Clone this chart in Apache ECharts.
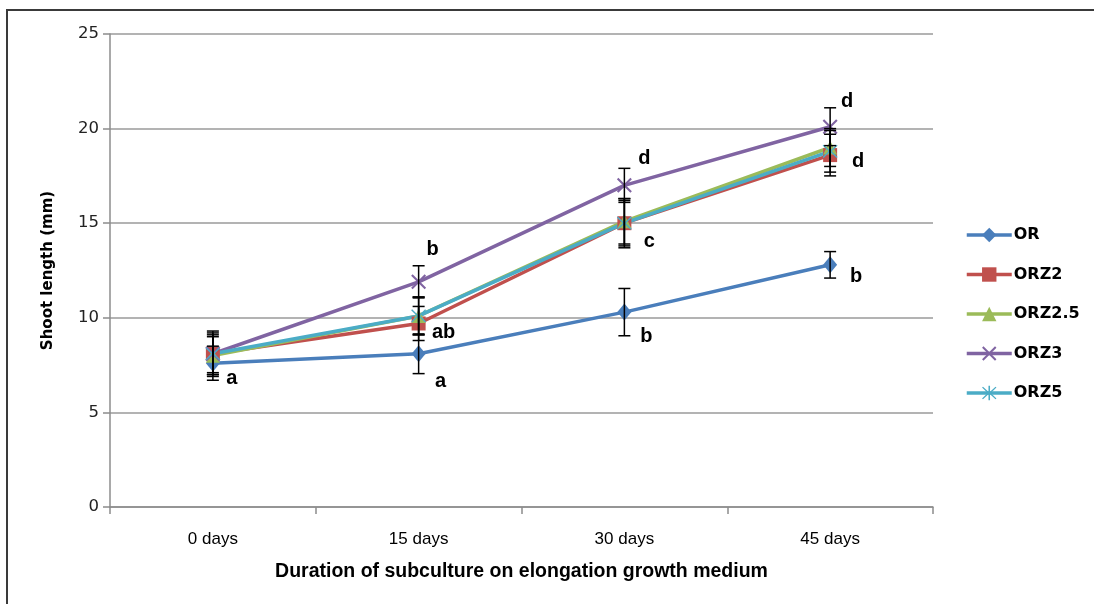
<!DOCTYPE html>
<html>
<head>
<meta charset="utf-8">
<title>Shoot length</title>
<script src="https://cdn.jsdelivr.net/npm/echarts@6/dist/echarts.min.js"></script>
<style>
  html, body { margin: 0; padding: 0; background: #fff; }
  #chart { width: 1094px; height: 604px; }
</style>
</head>
<body>
<div id="chart"></div>
<script>
// Categories (days on elongation medium)
const categories = ['0 days', '15 days', '30 days', '45 days'];

// Mean shoot length (mm) per treatment
const OR     = [7.6, 8.1, 10.3, 12.8];
const ORZ2   = [8.1, 9.7, 15.0, 18.6];
const ORZ2_5 = [8.0, 10.1, 15.1, 19.0];
const ORZ3   = [8.1, 11.9, 17.0, 20.1];
const ORZ5   = [8.1, 10.1, 15.0, 18.8];

// Standard errors (mm)
const OR_err     = [0.9, 1.05, 1.25, 0.7];
const ORZ2_err   = [1.2, 0.9, 1.2, 1.1];
const ORZ2_5_err = [1.0, 1.0, 1.2, 1.0];
const ORZ3_err   = [1.0, 0.85, 0.9, 1.0];
const ORZ5_err   = [1.1, 1.0, 1.3, 1.1];

// Significance letters
const OR_letters   = ['a', 'a', 'b', 'b'];
const ORZ2_letters = ['', 'ab', 'c', 'd'];
const ORZ3_letters = ['', 'b', 'd', 'd'];

// Y-axis ticks
const yMin = 0, yMax = 25, yStep = 5;

// Symbol shapes
const crossPath = 'path://M0,1L1,0L5,4L9,0L10,1L6,5L10,9L9,10L5,6L1,10L0,9L4,5Z';
const starPath  = 'path://M4.5,0L5.5,0L5.5,4.2L9,0.6L9.6,1.2L6,5L9.6,8.8L9,9.4L5.5,5.8L5.5,10L4.5,10L4.5,5.8L1,9.4L0.4,8.8L4,5L0.4,1.2L1,0.6L4.5,4.2Z';

// Letter placement relative to each marker (pixels)
const letterOffsets = {
  OR:   [[19, 15], [22, 28], [22, 24], [26, 12]],
  ORZ2: [[0, 0], [25, 9], [25, 18], [28, 6]],
  ORZ3: [[0, 0], [14, -32], [20, -27], [17, -25]]
};

const groups = [
  { name: 'OR',     values: OR,     err: OR_err,     color: '#4A7EBB', symbol: 'diamond',  size: [14, 17], letters: OR_letters,   offs: letterOffsets.OR },
  { name: 'ORZ2',   values: ORZ2,   err: ORZ2_err,   color: '#C0504D', symbol: 'rect',     size: 14,       letters: ORZ2_letters, offs: letterOffsets.ORZ2 },
  { name: 'ORZ2.5', values: ORZ2_5, err: ORZ2_5_err, color: '#9BBB59', symbol: 'triangle', size: 14 },
  { name: 'ORZ3',   values: ORZ3,   err: ORZ3_err,   color: '#8064A2', symbol: crossPath,  size: 15,       letters: ORZ3_letters, offs: letterOffsets.ORZ3 },
  { name: 'ORZ5',   values: ORZ5,   err: ORZ5_err,   color: '#4BACC6', symbol: starPath,   size: 15 }
];

const letterStyle = {
  fontFamily: 'Liberation Sans, Arial, sans-serif',
  fontWeight: 'bold',
  fontSize: 20,
  color: '#000'
};

const series = [];

groups.forEach(g => {
  const data = g.values.map((v, i) => {
    const item = { value: v };
    if (g.letters && g.letters[i]) {
      item.label = Object.assign({
        show: true,
        position: 'inside',
        offset: g.offs[i],
        formatter: g.letters[i]
      }, letterStyle);
    }
    return item;
  });
  series.push({
    name: g.name,
    type: 'line',
    data: data,
    symbol: g.symbol,
    symbolSize: g.size,
    showAllSymbol: true,
    lineStyle: { color: g.color, width: 3.5 },
    itemStyle: { color: g.color, opacity: 1 },
    label: { show: false },
    emphasis: { disabled: true },
    z: 3
  });
});

// Error bars, drawn above the lines
groups.forEach(g => {
  series.push({
    name: g.name + ' error',
    type: 'custom',
    data: g.values.map((v, i) => [i, v - g.err[i], v + g.err[i]]),
    renderItem: function (params, api) {
      const lo = api.coord([api.value(0), api.value(1)]);
      const hi = api.coord([api.value(0), api.value(2)]);
      const hw = 6;
      const style = { stroke: '#000', lineWidth: 1.5, fill: null };
      return {
        type: 'group',
        children: [
          { type: 'line', shape: { x1: lo[0], y1: lo[1], x2: hi[0], y2: hi[1] }, style: style },
          { type: 'line', shape: { x1: lo[0] - hw, y1: lo[1], x2: lo[0] + hw, y2: lo[1] }, style: style },
          { type: 'line', shape: { x1: hi[0] - hw, y1: hi[1], x2: hi[0] + hw, y2: hi[1] }, style: style }
        ]
      };
    },
    z: 5,
    silent: true
  });
});

const chart = echarts.init(document.getElementById('chart'), null, { renderer: 'canvas' });

chart.setOption({
  animation: false,
  backgroundColor: '#fff',
  graphic: [{
    type: 'rect',
    shape: { x: 7, y: 10, width: 1200, height: 700 },
    style: { fill: null, stroke: '#3a3a3a', lineWidth: 2 },
    silent: true
  }],
  grid: { left: 110, right: 161, top: 34, bottom: 97 },
  legend: {
    orient: 'vertical',
    left: 960,
    top: 222,
    itemWidth: 45,
    itemHeight: 18,
    itemGap: 23.5,
    lineStyle: { width: 3.5 },
    data: groups.map(g => g.name),
    textStyle: {
      fontFamily: 'DejaVu Sans, Verdana, sans-serif',
      fontSize: 16,
      fontWeight: 'bold',
      color: '#000',
      padding: [0, 0, 0, -3]
    }
  },
  xAxis: {
    type: 'category',
    data: categories,
    boundaryGap: true,
    axisLine: { lineStyle: { color: '#8c8c8c', width: 1.5 } },
    axisTick: { show: true, length: 7, lineStyle: { color: '#8c8c8c', width: 1.5 } },
    axisLabel: {
      margin: 24,
      fontFamily: 'Liberation Sans Narrow, Arial Narrow, sans-serif',
      fontSize: 17,
      color: '#000'
    },
    name: 'Duration of subculture on elongation growth medium',
    nameLocation: 'middle',
    nameGap: 55,
    nameTextStyle: {
      fontFamily: 'Liberation Sans, Arial, sans-serif',
      fontSize: 19.5,
      fontWeight: 'bold',
      color: '#000'
    }
  },
  yAxis: {
    type: 'value',
    min: yMin,
    max: yMax,
    interval: yStep,
    axisLine: { show: true, lineStyle: { color: '#8c8c8c', width: 1.5 } },
    axisTick: { show: true, length: 7, lineStyle: { color: '#8c8c8c', width: 1.5 } },
    splitLine: { lineStyle: { color: '#9a9a9a', width: 1.5 } },
    axisLabel: {
      margin: 11,
      fontFamily: 'DejaVu Sans, Verdana, sans-serif',
      fontSize: 16.5,
      color: '#222'
    },
    name: 'Shoot length (mm)',
    nameLocation: 'middle',
    nameRotate: 90,
    nameGap: 54,
    nameTextStyle: {
      fontFamily: 'DejaVu Sans, Verdana, sans-serif',
      fontSize: 15,
      fontWeight: 'bold',
      color: '#000'
    }
  },
  series: series
});
</script>
</body>
</html>
